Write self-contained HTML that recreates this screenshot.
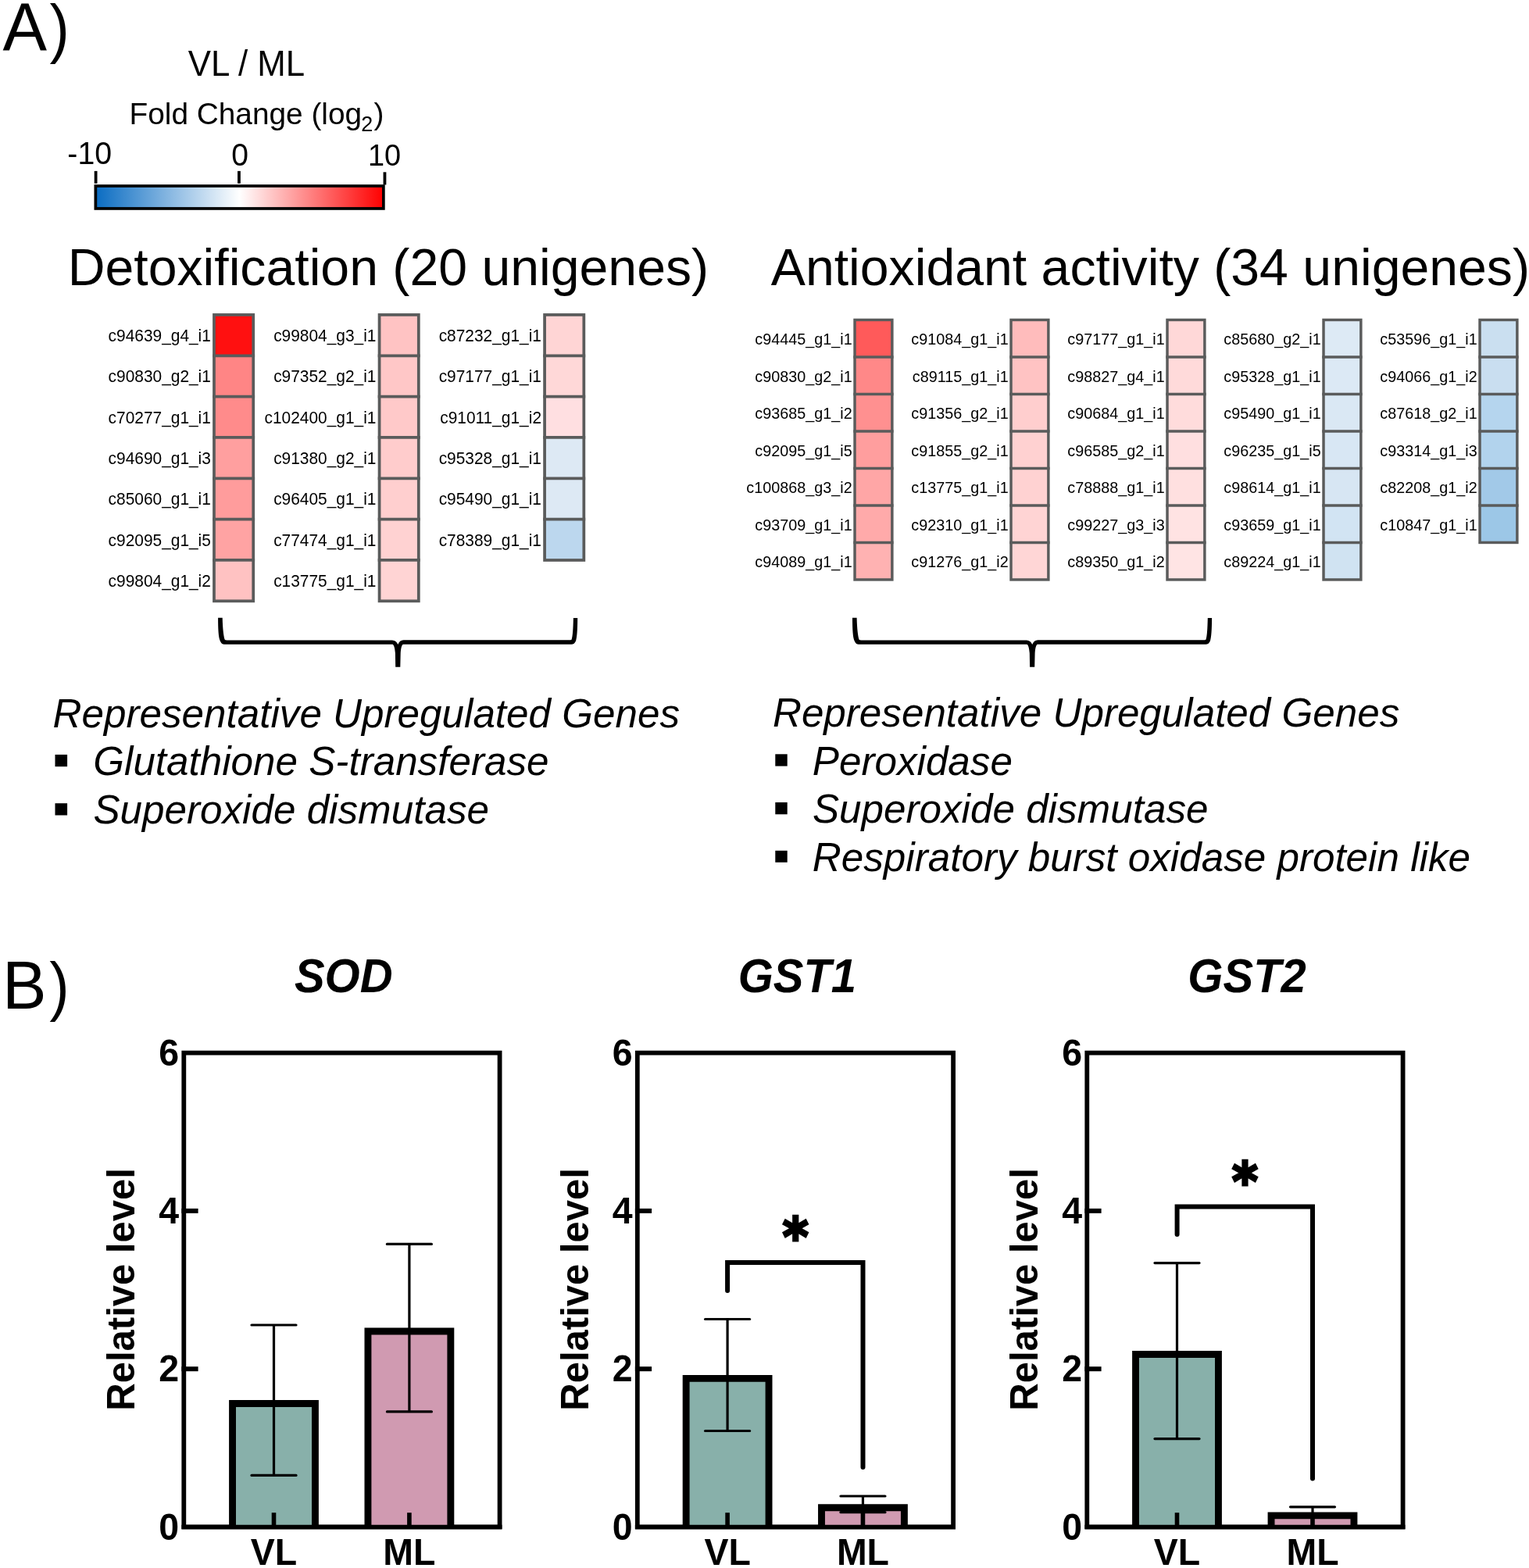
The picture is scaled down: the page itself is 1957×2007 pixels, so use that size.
<!DOCTYPE html>
<html><head><meta charset="utf-8"><title>Figure</title>
<style>
html,body{margin:0;padding:0;background:#fff;}
svg{display:block;}
text{font-family:"Liberation Sans", Arial, Helvetica, sans-serif;fill:#000;}
</style></head>
<body>
<svg width="1957" height="2007" viewBox="0 0 1957 2007">
<rect x="0" y="0" width="1957" height="2007" fill="#fff"/>
<text transform="translate(3.53 64.80) scale(1 1.027)" font-size="84.8">A</text>
<text transform="translate(63.45 65.00) scale(0.9 1.0)" font-size="84.2">)</text>
<text transform="translate(240.80 96.80) scale(1 1.04)" font-size="43.8">VL / ML</text>
<text transform="translate(165.52 159.00)" font-size="38.8">Fold Change (log</text>
<text transform="translate(462.25 167.80) scale(1 1.02)" font-size="27">2</text>
<text transform="translate(478.57 159.00) scale(1 0.985)" font-size="38.8">)</text>
<text transform="translate(86.37 210.00) scale(1 1.025)" font-size="39.3">-10</text>
<text transform="translate(296.18 212.30) scale(1 1.025)" font-size="39.1">0</text>
<text transform="translate(470.92 211.80) scale(1 1.025)" font-size="37.9">10</text>
<defs><linearGradient id="cb" x1="0" x2="1" y1="0" y2="0"><stop offset="0" stop-color="#0a6cc2"/><stop offset="0.5" stop-color="#ffffff"/><stop offset="1" stop-color="#ff0000"/></linearGradient></defs>
<rect x="122.35" y="238.05" width="368.50" height="28.90" fill="url(#cb)" stroke="#000" stroke-width="3.7"/>
<line x1="122.60" y1="218.90" x2="122.60" y2="234.80" stroke="#000" stroke-width="3.8" stroke-linecap="butt"/>
<line x1="305.95" y1="218.90" x2="305.95" y2="234.80" stroke="#000" stroke-width="3.8" stroke-linecap="butt"/>
<line x1="492.45" y1="220.30" x2="492.45" y2="236.50" stroke="#000" stroke-width="3.8" stroke-linecap="butt"/>
<text transform="translate(86.67 365.10) scale(1 1.01)" font-size="66.2">Detoxification (20 unigenes)</text>
<text transform="translate(986.77 364.90) scale(1 1.01)" font-size="66.2">Antioxidant activity (34 unigenes)</text>
<rect x="273.98" y="402.95" width="50.25" height="52.34" fill="#ff1010"/>
<rect x="273.98" y="455.29" width="50.25" height="52.34" fill="#ff8585"/>
<rect x="273.98" y="507.63" width="50.25" height="52.34" fill="#ff8b8b"/>
<rect x="273.98" y="559.97" width="50.25" height="52.34" fill="#ff9f9f"/>
<rect x="273.98" y="612.31" width="50.25" height="52.34" fill="#ff9c9c"/>
<rect x="273.98" y="664.65" width="50.25" height="52.34" fill="#ffa3a3"/>
<rect x="273.98" y="716.99" width="50.25" height="52.34" fill="#ffc2c2"/>
<rect x="273.98" y="402.95" width="50.25" height="366.38" fill="none" stroke="#5a5b5b" stroke-width="3.75"/>
<line x1="272.10" y1="455.29" x2="326.10" y2="455.29" stroke="#5a5b5b" stroke-width="3.75" stroke-linecap="butt"/>
<line x1="272.10" y1="507.63" x2="326.10" y2="507.63" stroke="#5a5b5b" stroke-width="3.75" stroke-linecap="butt"/>
<line x1="272.10" y1="559.97" x2="326.10" y2="559.97" stroke="#5a5b5b" stroke-width="3.75" stroke-linecap="butt"/>
<line x1="272.10" y1="612.31" x2="326.10" y2="612.31" stroke="#5a5b5b" stroke-width="3.75" stroke-linecap="butt"/>
<line x1="272.10" y1="664.65" x2="326.10" y2="664.65" stroke="#5a5b5b" stroke-width="3.75" stroke-linecap="butt"/>
<line x1="272.10" y1="716.99" x2="326.10" y2="716.99" stroke="#5a5b5b" stroke-width="3.75" stroke-linecap="butt"/>
<text transform="translate(269.90 437.12) scale(1 1.02)" font-size="20.9" text-anchor="end">c94639_g4_i1</text>
<text transform="translate(269.90 489.46) scale(1 1.02)" font-size="20.9" text-anchor="end">c90830_g2_i1</text>
<text transform="translate(269.90 541.80) scale(1 1.02)" font-size="20.9" text-anchor="end">c70277_g1_i1</text>
<text transform="translate(269.90 594.14) scale(1 1.02)" font-size="20.9" text-anchor="end">c94690_g1_i3</text>
<text transform="translate(269.90 646.48) scale(1 1.02)" font-size="20.9" text-anchor="end">c85060_g1_i1</text>
<text transform="translate(269.90 698.82) scale(1 1.02)" font-size="20.9" text-anchor="end">c92095_g1_i5</text>
<text transform="translate(269.90 751.16) scale(1 1.02)" font-size="20.9" text-anchor="end">c99804_g1_i2</text>
<rect x="485.57" y="402.95" width="50.25" height="52.34" fill="#ffc3c3"/>
<rect x="485.57" y="455.29" width="50.25" height="52.34" fill="#ffc7c7"/>
<rect x="485.57" y="507.63" width="50.25" height="52.34" fill="#ffc9c9"/>
<rect x="485.57" y="559.97" width="50.25" height="52.34" fill="#ffcccc"/>
<rect x="485.57" y="612.31" width="50.25" height="52.34" fill="#ffcfcf"/>
<rect x="485.57" y="664.65" width="50.25" height="52.34" fill="#ffd2d2"/>
<rect x="485.57" y="716.99" width="50.25" height="52.34" fill="#ffd4d4"/>
<rect x="485.57" y="402.95" width="50.25" height="366.38" fill="none" stroke="#5a5b5b" stroke-width="3.75"/>
<line x1="483.70" y1="455.29" x2="537.70" y2="455.29" stroke="#5a5b5b" stroke-width="3.75" stroke-linecap="butt"/>
<line x1="483.70" y1="507.63" x2="537.70" y2="507.63" stroke="#5a5b5b" stroke-width="3.75" stroke-linecap="butt"/>
<line x1="483.70" y1="559.97" x2="537.70" y2="559.97" stroke="#5a5b5b" stroke-width="3.75" stroke-linecap="butt"/>
<line x1="483.70" y1="612.31" x2="537.70" y2="612.31" stroke="#5a5b5b" stroke-width="3.75" stroke-linecap="butt"/>
<line x1="483.70" y1="664.65" x2="537.70" y2="664.65" stroke="#5a5b5b" stroke-width="3.75" stroke-linecap="butt"/>
<line x1="483.70" y1="716.99" x2="537.70" y2="716.99" stroke="#5a5b5b" stroke-width="3.75" stroke-linecap="butt"/>
<text transform="translate(481.50 437.12) scale(1 1.02)" font-size="20.9" text-anchor="end">c99804_g3_i1</text>
<text transform="translate(481.50 489.46) scale(1 1.02)" font-size="20.9" text-anchor="end">c97352_g2_i1</text>
<text transform="translate(481.50 541.80) scale(1 1.02)" font-size="20.9" text-anchor="end">c102400_g1_i1</text>
<text transform="translate(481.50 594.14) scale(1 1.02)" font-size="20.9" text-anchor="end">c91380_g2_i1</text>
<text transform="translate(481.50 646.48) scale(1 1.02)" font-size="20.9" text-anchor="end">c96405_g1_i1</text>
<text transform="translate(481.50 698.82) scale(1 1.02)" font-size="20.9" text-anchor="end">c77474_g1_i1</text>
<text transform="translate(481.50 751.16) scale(1 1.02)" font-size="20.9" text-anchor="end">c13775_g1_i1</text>
<rect x="697.08" y="402.95" width="50.25" height="52.34" fill="#ffd5d5"/>
<rect x="697.08" y="455.29" width="50.25" height="52.34" fill="#ffd8d8"/>
<rect x="697.08" y="507.63" width="50.25" height="52.34" fill="#ffdfe1"/>
<rect x="697.08" y="559.97" width="50.25" height="52.34" fill="#dde9f4"/>
<rect x="697.08" y="612.31" width="50.25" height="52.34" fill="#dde9f4"/>
<rect x="697.08" y="664.65" width="50.25" height="52.34" fill="#bcd7ee"/>
<rect x="697.08" y="402.95" width="50.25" height="314.04" fill="none" stroke="#5a5b5b" stroke-width="3.75"/>
<line x1="695.20" y1="455.29" x2="749.20" y2="455.29" stroke="#5a5b5b" stroke-width="3.75" stroke-linecap="butt"/>
<line x1="695.20" y1="507.63" x2="749.20" y2="507.63" stroke="#5a5b5b" stroke-width="3.75" stroke-linecap="butt"/>
<line x1="695.20" y1="559.97" x2="749.20" y2="559.97" stroke="#5a5b5b" stroke-width="3.75" stroke-linecap="butt"/>
<line x1="695.20" y1="612.31" x2="749.20" y2="612.31" stroke="#5a5b5b" stroke-width="3.75" stroke-linecap="butt"/>
<line x1="695.20" y1="664.65" x2="749.20" y2="664.65" stroke="#5a5b5b" stroke-width="3.75" stroke-linecap="butt"/>
<text transform="translate(693.00 437.12) scale(1 1.02)" font-size="20.9" text-anchor="end">c87232_g1_i1</text>
<text transform="translate(693.00 489.46) scale(1 1.02)" font-size="20.9" text-anchor="end">c97177_g1_i1</text>
<text transform="translate(693.00 541.80) scale(1 1.02)" font-size="20.9" text-anchor="end">c91011_g1_i2</text>
<text transform="translate(693.00 594.14) scale(1 1.02)" font-size="20.9" text-anchor="end">c95328_g1_i1</text>
<text transform="translate(693.00 646.48) scale(1 1.02)" font-size="20.9" text-anchor="end">c95490_g1_i1</text>
<text transform="translate(693.00 698.82) scale(1 1.02)" font-size="20.9" text-anchor="end">c78389_g1_i1</text>
<rect x="1094.02" y="409.45" width="47.85" height="47.50" fill="#ff5a5a"/>
<rect x="1094.02" y="456.95" width="47.85" height="47.50" fill="#ff8888"/>
<rect x="1094.02" y="504.45" width="47.85" height="47.50" fill="#ff9090"/>
<rect x="1094.02" y="551.95" width="47.85" height="47.50" fill="#ff9e9e"/>
<rect x="1094.02" y="599.45" width="47.85" height="47.50" fill="#ffa6a6"/>
<rect x="1094.02" y="646.95" width="47.85" height="47.50" fill="#ffaaaa"/>
<rect x="1094.02" y="694.45" width="47.85" height="47.50" fill="#ffb2b2"/>
<rect x="1094.02" y="409.45" width="47.85" height="332.50" fill="none" stroke="#5a5b5b" stroke-width="3.45"/>
<line x1="1092.30" y1="456.95" x2="1143.60" y2="456.95" stroke="#5a5b5b" stroke-width="3.45" stroke-linecap="butt"/>
<line x1="1092.30" y1="504.45" x2="1143.60" y2="504.45" stroke="#5a5b5b" stroke-width="3.45" stroke-linecap="butt"/>
<line x1="1092.30" y1="551.95" x2="1143.60" y2="551.95" stroke="#5a5b5b" stroke-width="3.45" stroke-linecap="butt"/>
<line x1="1092.30" y1="599.45" x2="1143.60" y2="599.45" stroke="#5a5b5b" stroke-width="3.45" stroke-linecap="butt"/>
<line x1="1092.30" y1="646.95" x2="1143.60" y2="646.95" stroke="#5a5b5b" stroke-width="3.45" stroke-linecap="butt"/>
<line x1="1092.30" y1="694.45" x2="1143.60" y2="694.45" stroke="#5a5b5b" stroke-width="3.45" stroke-linecap="butt"/>
<text transform="translate(1090.70 441.00) scale(1 1.02)" font-size="19.8" text-anchor="end">c94445_g1_i1</text>
<text transform="translate(1090.70 488.50) scale(1 1.02)" font-size="19.8" text-anchor="end">c90830_g2_i1</text>
<text transform="translate(1090.70 536.00) scale(1 1.02)" font-size="19.8" text-anchor="end">c93685_g1_i2</text>
<text transform="translate(1090.70 583.50) scale(1 1.02)" font-size="19.8" text-anchor="end">c92095_g1_i5</text>
<text transform="translate(1090.70 631.00) scale(1 1.02)" font-size="19.8" text-anchor="end">c100868_g3_i2</text>
<text transform="translate(1090.70 678.50) scale(1 1.02)" font-size="19.8" text-anchor="end">c93709_g1_i1</text>
<text transform="translate(1090.70 726.00) scale(1 1.02)" font-size="19.8" text-anchor="end">c94089_g1_i1</text>
<rect x="1294.02" y="409.45" width="47.85" height="47.50" fill="#ffbcbc"/>
<rect x="1294.02" y="456.95" width="47.85" height="47.50" fill="#ffc3c3"/>
<rect x="1294.02" y="504.45" width="47.85" height="47.50" fill="#ffcece"/>
<rect x="1294.02" y="551.95" width="47.85" height="47.50" fill="#ffd1d1"/>
<rect x="1294.02" y="599.45" width="47.85" height="47.50" fill="#ffd2d2"/>
<rect x="1294.02" y="646.95" width="47.85" height="47.50" fill="#ffd4d4"/>
<rect x="1294.02" y="694.45" width="47.85" height="47.50" fill="#ffd6d6"/>
<rect x="1294.02" y="409.45" width="47.85" height="332.50" fill="none" stroke="#5a5b5b" stroke-width="3.45"/>
<line x1="1292.30" y1="456.95" x2="1343.60" y2="456.95" stroke="#5a5b5b" stroke-width="3.45" stroke-linecap="butt"/>
<line x1="1292.30" y1="504.45" x2="1343.60" y2="504.45" stroke="#5a5b5b" stroke-width="3.45" stroke-linecap="butt"/>
<line x1="1292.30" y1="551.95" x2="1343.60" y2="551.95" stroke="#5a5b5b" stroke-width="3.45" stroke-linecap="butt"/>
<line x1="1292.30" y1="599.45" x2="1343.60" y2="599.45" stroke="#5a5b5b" stroke-width="3.45" stroke-linecap="butt"/>
<line x1="1292.30" y1="646.95" x2="1343.60" y2="646.95" stroke="#5a5b5b" stroke-width="3.45" stroke-linecap="butt"/>
<line x1="1292.30" y1="694.45" x2="1343.60" y2="694.45" stroke="#5a5b5b" stroke-width="3.45" stroke-linecap="butt"/>
<text transform="translate(1290.70 441.00) scale(1 1.02)" font-size="19.8" text-anchor="end">c91084_g1_i1</text>
<text transform="translate(1290.70 488.50) scale(1 1.02)" font-size="19.8" text-anchor="end">c89115_g1_i1</text>
<text transform="translate(1290.70 536.00) scale(1 1.02)" font-size="19.8" text-anchor="end">c91356_g2_i1</text>
<text transform="translate(1290.70 583.50) scale(1 1.02)" font-size="19.8" text-anchor="end">c91855_g2_i1</text>
<text transform="translate(1290.70 631.00) scale(1 1.02)" font-size="19.8" text-anchor="end">c13775_g1_i1</text>
<text transform="translate(1290.70 678.50) scale(1 1.02)" font-size="19.8" text-anchor="end">c92310_g1_i1</text>
<text transform="translate(1290.70 726.00) scale(1 1.02)" font-size="19.8" text-anchor="end">c91276_g1_i2</text>
<rect x="1494.02" y="409.45" width="47.85" height="47.50" fill="#ffd8d8"/>
<rect x="1494.02" y="456.95" width="47.85" height="47.50" fill="#ffdada"/>
<rect x="1494.02" y="504.45" width="47.85" height="47.50" fill="#ffdcdc"/>
<rect x="1494.02" y="551.95" width="47.85" height="47.50" fill="#ffdfe0"/>
<rect x="1494.02" y="599.45" width="47.85" height="47.50" fill="#ffe0e0"/>
<rect x="1494.02" y="646.95" width="47.85" height="47.50" fill="#ffe3e3"/>
<rect x="1494.02" y="694.45" width="47.85" height="47.50" fill="#ffe4e4"/>
<rect x="1494.02" y="409.45" width="47.85" height="332.50" fill="none" stroke="#5a5b5b" stroke-width="3.45"/>
<line x1="1492.30" y1="456.95" x2="1543.60" y2="456.95" stroke="#5a5b5b" stroke-width="3.45" stroke-linecap="butt"/>
<line x1="1492.30" y1="504.45" x2="1543.60" y2="504.45" stroke="#5a5b5b" stroke-width="3.45" stroke-linecap="butt"/>
<line x1="1492.30" y1="551.95" x2="1543.60" y2="551.95" stroke="#5a5b5b" stroke-width="3.45" stroke-linecap="butt"/>
<line x1="1492.30" y1="599.45" x2="1543.60" y2="599.45" stroke="#5a5b5b" stroke-width="3.45" stroke-linecap="butt"/>
<line x1="1492.30" y1="646.95" x2="1543.60" y2="646.95" stroke="#5a5b5b" stroke-width="3.45" stroke-linecap="butt"/>
<line x1="1492.30" y1="694.45" x2="1543.60" y2="694.45" stroke="#5a5b5b" stroke-width="3.45" stroke-linecap="butt"/>
<text transform="translate(1490.70 441.00) scale(1 1.02)" font-size="19.8" text-anchor="end">c97177_g1_i1</text>
<text transform="translate(1490.70 488.50) scale(1 1.02)" font-size="19.8" text-anchor="end">c98827_g4_i1</text>
<text transform="translate(1490.70 536.00) scale(1 1.02)" font-size="19.8" text-anchor="end">c90684_g1_i1</text>
<text transform="translate(1490.70 583.50) scale(1 1.02)" font-size="19.8" text-anchor="end">c96585_g2_i1</text>
<text transform="translate(1490.70 631.00) scale(1 1.02)" font-size="19.8" text-anchor="end">c78888_g1_i1</text>
<text transform="translate(1490.70 678.50) scale(1 1.02)" font-size="19.8" text-anchor="end">c99227_g3_i3</text>
<text transform="translate(1490.70 726.00) scale(1 1.02)" font-size="19.8" text-anchor="end">c89350_g1_i2</text>
<rect x="1694.02" y="409.45" width="47.85" height="47.50" fill="#ddeaf5"/>
<rect x="1694.02" y="456.95" width="47.85" height="47.50" fill="#dce9f5"/>
<rect x="1694.02" y="504.45" width="47.85" height="47.50" fill="#dae8f4"/>
<rect x="1694.02" y="551.95" width="47.85" height="47.50" fill="#d8e7f4"/>
<rect x="1694.02" y="599.45" width="47.85" height="47.50" fill="#d7e6f3"/>
<rect x="1694.02" y="646.95" width="47.85" height="47.50" fill="#d2e4f3"/>
<rect x="1694.02" y="694.45" width="47.85" height="47.50" fill="#d0e3f2"/>
<rect x="1694.02" y="409.45" width="47.85" height="332.50" fill="none" stroke="#5a5b5b" stroke-width="3.45"/>
<line x1="1692.30" y1="456.95" x2="1743.60" y2="456.95" stroke="#5a5b5b" stroke-width="3.45" stroke-linecap="butt"/>
<line x1="1692.30" y1="504.45" x2="1743.60" y2="504.45" stroke="#5a5b5b" stroke-width="3.45" stroke-linecap="butt"/>
<line x1="1692.30" y1="551.95" x2="1743.60" y2="551.95" stroke="#5a5b5b" stroke-width="3.45" stroke-linecap="butt"/>
<line x1="1692.30" y1="599.45" x2="1743.60" y2="599.45" stroke="#5a5b5b" stroke-width="3.45" stroke-linecap="butt"/>
<line x1="1692.30" y1="646.95" x2="1743.60" y2="646.95" stroke="#5a5b5b" stroke-width="3.45" stroke-linecap="butt"/>
<line x1="1692.30" y1="694.45" x2="1743.60" y2="694.45" stroke="#5a5b5b" stroke-width="3.45" stroke-linecap="butt"/>
<text transform="translate(1690.70 441.00) scale(1 1.02)" font-size="19.8" text-anchor="end">c85680_g2_i1</text>
<text transform="translate(1690.70 488.50) scale(1 1.02)" font-size="19.8" text-anchor="end">c95328_g1_i1</text>
<text transform="translate(1690.70 536.00) scale(1 1.02)" font-size="19.8" text-anchor="end">c95490_g1_i1</text>
<text transform="translate(1690.70 583.50) scale(1 1.02)" font-size="19.8" text-anchor="end">c96235_g1_i5</text>
<text transform="translate(1690.70 631.00) scale(1 1.02)" font-size="19.8" text-anchor="end">c98614_g1_i1</text>
<text transform="translate(1690.70 678.50) scale(1 1.02)" font-size="19.8" text-anchor="end">c93659_g1_i1</text>
<text transform="translate(1690.70 726.00) scale(1 1.02)" font-size="19.8" text-anchor="end">c89224_g1_i1</text>
<rect x="1894.02" y="409.45" width="47.85" height="47.50" fill="#cadff0"/>
<rect x="1894.02" y="456.95" width="47.85" height="47.50" fill="#c9def0"/>
<rect x="1894.02" y="504.45" width="47.85" height="47.50" fill="#b5d5ee"/>
<rect x="1894.02" y="551.95" width="47.85" height="47.50" fill="#b2d3ed"/>
<rect x="1894.02" y="599.45" width="47.85" height="47.50" fill="#a2c9e8"/>
<rect x="1894.02" y="646.95" width="47.85" height="47.50" fill="#9cc7e7"/>
<rect x="1894.02" y="409.45" width="47.85" height="285.00" fill="none" stroke="#5a5b5b" stroke-width="3.45"/>
<line x1="1892.30" y1="456.95" x2="1943.60" y2="456.95" stroke="#5a5b5b" stroke-width="3.45" stroke-linecap="butt"/>
<line x1="1892.30" y1="504.45" x2="1943.60" y2="504.45" stroke="#5a5b5b" stroke-width="3.45" stroke-linecap="butt"/>
<line x1="1892.30" y1="551.95" x2="1943.60" y2="551.95" stroke="#5a5b5b" stroke-width="3.45" stroke-linecap="butt"/>
<line x1="1892.30" y1="599.45" x2="1943.60" y2="599.45" stroke="#5a5b5b" stroke-width="3.45" stroke-linecap="butt"/>
<line x1="1892.30" y1="646.95" x2="1943.60" y2="646.95" stroke="#5a5b5b" stroke-width="3.45" stroke-linecap="butt"/>
<text transform="translate(1890.70 441.00) scale(1 1.02)" font-size="19.8" text-anchor="end">c53596_g1_i1</text>
<text transform="translate(1890.70 488.50) scale(1 1.02)" font-size="19.8" text-anchor="end">c94066_g1_i2</text>
<text transform="translate(1890.70 536.00) scale(1 1.02)" font-size="19.8" text-anchor="end">c87618_g2_i1</text>
<text transform="translate(1890.70 583.50) scale(1 1.02)" font-size="19.8" text-anchor="end">c93314_g1_i3</text>
<text transform="translate(1890.70 631.00) scale(1 1.02)" font-size="19.8" text-anchor="end">c82208_g1_i2</text>
<text transform="translate(1890.70 678.50) scale(1 1.02)" font-size="19.8" text-anchor="end">c10847_g1_i1</text>
<path d="M279.10,790.7 L284.70,790.7 C285.00,805 286.30,814.5 287.60,818.5 C288.20,819.3 289.00,819.4 290.00,819.4 L502.00,819.4 C505.50,819.4 508.00,821.5 509.30,825.1 C510.60,821.5 513.00,819.2 516.50,819.2 L729.00,819.2 C730.20,819.2 731.00,819.3 731.60,818.5 C733.00,814.5 733.60,805 733.90,790.9 L739.20,790.9 C739.20,805 738.50,816 737.00,820.5 C735.50,823.8 733.50,824.8 731.50,824.8 L515.80,824.8 C514.20,825.8 513.20,829.5 512.70,836 L512.30,853.8 L506.20,853.8 L505.90,836 C505.30,829.5 504.30,825.8 502.60,824.8 L287.00,824.8 C285.00,824.8 283.20,823.8 281.80,820.5 C279.60,816 279.10,805 279.10,790.7 Z" fill="#000"/>
<path d="M1091.00,790.7 L1096.60,790.7 C1096.90,805 1098.20,814.5 1099.50,818.5 C1100.10,819.3 1100.90,819.4 1101.90,819.4 L1313.90,819.4 C1317.40,819.4 1319.90,821.5 1321.20,825.1 C1322.50,821.5 1324.90,819.2 1328.40,819.2 L1540.90,819.2 C1542.10,819.2 1542.90,819.3 1543.50,818.5 C1544.90,814.5 1545.50,805 1545.80,790.9 L1551.10,790.9 C1551.10,805 1550.40,816 1548.90,820.5 C1547.40,823.8 1545.40,824.8 1543.40,824.8 L1327.70,824.8 C1326.10,825.8 1325.10,829.5 1324.60,836 L1324.20,853.8 L1318.10,853.8 L1317.80,836 C1317.20,829.5 1316.20,825.8 1314.50,824.8 L1098.90,824.8 C1096.90,824.8 1095.10,823.8 1093.70,820.5 C1091.50,816 1091.00,805 1091.00,790.7 Z" fill="#000"/>
<text transform="translate(67.61 931.20)" font-size="51.2" font-style="italic">Representative Upregulated Genes</text>
<rect x="70.50" y="965.90" width="15.60" height="15.30" fill="#000"/>
<text transform="translate(119.19 992.40)" font-size="51.2" font-style="italic">Glutathione S-transferase</text>
<rect x="70.50" y="1028.20" width="15.60" height="15.30" fill="#000"/>
<text transform="translate(119.47 1053.80)" font-size="51.2" font-style="italic">Superoxide dismutase</text>
<text transform="translate(988.91 929.90)" font-size="51.2" font-style="italic">Representative Upregulated Genes</text>
<rect x="992.30" y="965.30" width="15.40" height="15.30" fill="#000"/>
<text transform="translate(1039.81 991.60)" font-size="51.2" font-style="italic">Peroxidase</text>
<rect x="992.30" y="1027.00" width="15.40" height="15.30" fill="#000"/>
<text transform="translate(1039.97 1053.30)" font-size="51.2" font-style="italic">Superoxide dismutase</text>
<rect x="992.30" y="1088.80" width="15.40" height="15.00" fill="#000"/>
<text transform="translate(1039.81 1114.50)" font-size="51.2" font-style="italic">Respiratory burst oxidase protein like</text>
<text transform="translate(3.05 1290.60) scale(1 1.021)" font-size="84.8">B</text>
<text transform="translate(63.30 1290.90) scale(0.907 1.0)" font-size="84.0">)</text>
<text transform="translate(376.90 1270.00) scale(1 1.05)" font-size="58" font-weight="bold" font-style="italic">SOD</text>
<rect x="235.30" y="1347.65" width="404.30" height="606.85" fill="none" stroke="#000" stroke-width="5.8"/>
<line x1="232.40" y1="1752.20" x2="253.60" y2="1752.20" stroke="#000" stroke-width="6.0" stroke-linecap="butt"/>
<line x1="232.40" y1="1549.90" x2="253.60" y2="1549.90" stroke="#000" stroke-width="6.0" stroke-linecap="butt"/>
<text transform="translate(229.00 1970.50) scale(1 1.04)" font-size="46.5" font-weight="bold" text-anchor="end">0</text>
<text transform="translate(229.00 1768.20) scale(1 1.04)" font-size="46.5" font-weight="bold" text-anchor="end">2</text>
<text transform="translate(229.00 1565.90) scale(1 1.04)" font-size="46.5" font-weight="bold" text-anchor="end">4</text>
<text transform="translate(229.00 1363.60) scale(1 1.04)" font-size="46.5" font-weight="bold" text-anchor="end">6</text>
<text transform="translate(172.40 1805.68) rotate(-90) scale(1 1.03)" font-size="49" font-weight="bold">Relative level</text>
<rect x="297.55" y="1796.55" width="105.90" height="157.95" fill="#88b0aa"/>
<path d="M297.55,1954.50 L297.55,1796.55 L403.45,1796.55 L403.45,1954.50" fill="none" stroke="#000" stroke-width="8.9" stroke-linejoin="miter"/>
<line x1="350.50" y1="1936.20" x2="350.50" y2="1954.50" stroke="#000" stroke-width="5.6" stroke-linecap="butt"/>
<line x1="350.50" y1="1696.00" x2="350.50" y2="1888.40" stroke="#000" stroke-width="3.2" stroke-linecap="butt"/>
<line x1="322.00" y1="1696.00" x2="379.00" y2="1696.00" stroke="#000" stroke-width="3.2" stroke-linecap="round"/>
<line x1="322.00" y1="1888.40" x2="379.00" y2="1888.40" stroke="#000" stroke-width="3.2" stroke-linecap="round"/>
<rect x="470.95" y="1704.05" width="105.90" height="250.45" fill="#d09ab1"/>
<path d="M470.95,1954.50 L470.95,1704.05 L576.85,1704.05 L576.85,1954.50" fill="none" stroke="#000" stroke-width="8.9" stroke-linejoin="miter"/>
<line x1="523.90" y1="1936.20" x2="523.90" y2="1954.50" stroke="#000" stroke-width="5.6" stroke-linecap="butt"/>
<line x1="523.90" y1="1592.40" x2="523.90" y2="1806.90" stroke="#000" stroke-width="3.2" stroke-linecap="butt"/>
<line x1="495.40" y1="1592.40" x2="552.40" y2="1592.40" stroke="#000" stroke-width="3.2" stroke-linecap="round"/>
<line x1="495.40" y1="1806.90" x2="552.40" y2="1806.90" stroke="#000" stroke-width="3.2" stroke-linecap="round"/>
<line x1="232.40" y1="1954.50" x2="642.50" y2="1954.50" stroke="#000" stroke-width="5.6" stroke-linecap="butt"/>
<text transform="translate(350.50 2002.90) scale(1 1.04)" font-size="46.5" font-weight="bold" text-anchor="middle">VL</text>
<text transform="translate(523.90 2002.90) scale(1 1.04)" font-size="46.5" font-weight="bold" text-anchor="middle">ML</text>
<text transform="translate(944.66 1270.00) scale(1 1.05)" font-size="58" font-weight="bold" font-style="italic">GST1</text>
<rect x="815.80" y="1347.65" width="404.30" height="606.85" fill="none" stroke="#000" stroke-width="5.8"/>
<line x1="812.90" y1="1752.20" x2="834.10" y2="1752.20" stroke="#000" stroke-width="6.0" stroke-linecap="butt"/>
<line x1="812.90" y1="1549.90" x2="834.10" y2="1549.90" stroke="#000" stroke-width="6.0" stroke-linecap="butt"/>
<text transform="translate(809.50 1970.50) scale(1 1.04)" font-size="46.5" font-weight="bold" text-anchor="end">0</text>
<text transform="translate(809.50 1768.20) scale(1 1.04)" font-size="46.5" font-weight="bold" text-anchor="end">2</text>
<text transform="translate(809.50 1565.90) scale(1 1.04)" font-size="46.5" font-weight="bold" text-anchor="end">4</text>
<text transform="translate(809.50 1363.60) scale(1 1.04)" font-size="46.5" font-weight="bold" text-anchor="end">6</text>
<text transform="translate(752.90 1805.68) rotate(-90) scale(1 1.03)" font-size="49" font-weight="bold">Relative level</text>
<rect x="878.15" y="1764.35" width="105.90" height="190.15" fill="#88b0aa"/>
<path d="M878.15,1954.50 L878.15,1764.35 L984.05,1764.35 L984.05,1954.50" fill="none" stroke="#000" stroke-width="8.9" stroke-linejoin="miter"/>
<line x1="931.10" y1="1936.20" x2="931.10" y2="1954.50" stroke="#000" stroke-width="5.6" stroke-linecap="butt"/>
<line x1="931.10" y1="1688.50" x2="931.10" y2="1831.50" stroke="#000" stroke-width="3.2" stroke-linecap="butt"/>
<line x1="902.60" y1="1688.50" x2="959.60" y2="1688.50" stroke="#000" stroke-width="3.2" stroke-linecap="round"/>
<line x1="902.60" y1="1831.50" x2="959.60" y2="1831.50" stroke="#000" stroke-width="3.2" stroke-linecap="round"/>
<rect x="1051.50" y="1929.75" width="105.90" height="24.75" fill="#d09ab1"/>
<path d="M1051.50,1954.50 L1051.50,1929.75 L1157.40,1929.75 L1157.40,1954.50" fill="none" stroke="#000" stroke-width="8.9" stroke-linejoin="miter"/>
<line x1="1104.45" y1="1936.20" x2="1104.45" y2="1954.50" stroke="#000" stroke-width="5.6" stroke-linecap="butt"/>
<line x1="1104.45" y1="1915.00" x2="1104.45" y2="1935.70" stroke="#000" stroke-width="3.2" stroke-linecap="butt"/>
<line x1="1075.95" y1="1915.00" x2="1132.95" y2="1915.00" stroke="#000" stroke-width="3.2" stroke-linecap="round"/>
<line x1="1075.95" y1="1935.70" x2="1132.95" y2="1935.70" stroke="#000" stroke-width="3.2" stroke-linecap="round"/>
<line x1="812.90" y1="1954.50" x2="1223.00" y2="1954.50" stroke="#000" stroke-width="5.6" stroke-linecap="butt"/>
<text transform="translate(931.10 2002.90) scale(1 1.04)" font-size="46.5" font-weight="bold" text-anchor="middle">VL</text>
<text transform="translate(1104.45 2002.90) scale(1 1.04)" font-size="46.5" font-weight="bold" text-anchor="middle">ML</text>
<path d="M931.10,1652.00 L931.10,1616.00 L1104.50,1616.00 L1104.50,1878.00" fill="none" stroke="#000" stroke-width="6.0" stroke-linecap="round" stroke-linejoin="miter"/>
<text transform="translate(1018.10 1572.30) scale(1 1.08)" x="0" y="32.13" font-family="DejaVu Sans" font-weight="bold" font-size="63.0" text-anchor="middle" stroke="#000" stroke-width="3" stroke-linejoin="miter" style="font-family:'DejaVu Sans',sans-serif">*</text>
<text transform="translate(1520.36 1270.00) scale(1 1.05)" font-size="58" font-weight="bold" font-style="italic">GST2</text>
<rect x="1391.30" y="1347.65" width="404.30" height="606.85" fill="none" stroke="#000" stroke-width="5.8"/>
<line x1="1388.40" y1="1752.20" x2="1409.60" y2="1752.20" stroke="#000" stroke-width="6.0" stroke-linecap="butt"/>
<line x1="1388.40" y1="1549.90" x2="1409.60" y2="1549.90" stroke="#000" stroke-width="6.0" stroke-linecap="butt"/>
<text transform="translate(1385.00 1970.50) scale(1 1.04)" font-size="46.5" font-weight="bold" text-anchor="end">0</text>
<text transform="translate(1385.00 1768.20) scale(1 1.04)" font-size="46.5" font-weight="bold" text-anchor="end">2</text>
<text transform="translate(1385.00 1565.90) scale(1 1.04)" font-size="46.5" font-weight="bold" text-anchor="end">4</text>
<text transform="translate(1385.00 1363.60) scale(1 1.04)" font-size="46.5" font-weight="bold" text-anchor="end">6</text>
<text transform="translate(1328.40 1805.68) rotate(-90) scale(1 1.03)" font-size="49" font-weight="bold">Relative level</text>
<rect x="1453.55" y="1733.45" width="105.90" height="221.05" fill="#88b0aa"/>
<path d="M1453.55,1954.50 L1453.55,1733.45 L1559.45,1733.45 L1559.45,1954.50" fill="none" stroke="#000" stroke-width="8.9" stroke-linejoin="miter"/>
<line x1="1506.50" y1="1936.20" x2="1506.50" y2="1954.50" stroke="#000" stroke-width="5.6" stroke-linecap="butt"/>
<line x1="1506.50" y1="1616.60" x2="1506.50" y2="1841.60" stroke="#000" stroke-width="3.2" stroke-linecap="butt"/>
<line x1="1478.00" y1="1616.60" x2="1535.00" y2="1616.60" stroke="#000" stroke-width="3.2" stroke-linecap="round"/>
<line x1="1478.00" y1="1841.60" x2="1535.00" y2="1841.60" stroke="#000" stroke-width="3.2" stroke-linecap="round"/>
<rect x="1627.05" y="1939.85" width="105.90" height="14.65" fill="#d09ab1"/>
<path d="M1627.05,1954.50 L1627.05,1939.85 L1732.95,1939.85 L1732.95,1954.50" fill="none" stroke="#000" stroke-width="8.9" stroke-linejoin="miter"/>
<line x1="1680.00" y1="1936.20" x2="1680.00" y2="1954.50" stroke="#000" stroke-width="5.6" stroke-linecap="butt"/>
<line x1="1680.00" y1="1928.80" x2="1680.00" y2="1939.00" stroke="#000" stroke-width="3.2" stroke-linecap="butt"/>
<line x1="1651.50" y1="1928.80" x2="1708.50" y2="1928.80" stroke="#000" stroke-width="3.2" stroke-linecap="round"/>
<line x1="1651.50" y1="1939.00" x2="1708.50" y2="1939.00" stroke="#000" stroke-width="3.2" stroke-linecap="round"/>
<line x1="1388.40" y1="1954.50" x2="1798.50" y2="1954.50" stroke="#000" stroke-width="5.6" stroke-linecap="butt"/>
<text transform="translate(1506.50 2002.90) scale(1 1.04)" font-size="46.5" font-weight="bold" text-anchor="middle">VL</text>
<text transform="translate(1680.00 2002.90) scale(1 1.04)" font-size="46.5" font-weight="bold" text-anchor="middle">ML</text>
<path d="M1506.60,1580.00 L1506.60,1544.60 L1680.00,1544.60 L1680.00,1892.50" fill="none" stroke="#000" stroke-width="6.0" stroke-linecap="round" stroke-linejoin="miter"/>
<text transform="translate(1593.35 1501.45) scale(1 1.08)" x="0" y="32.13" font-family="DejaVu Sans" font-weight="bold" font-size="63.0" text-anchor="middle" stroke="#000" stroke-width="3" stroke-linejoin="miter" style="font-family:'DejaVu Sans',sans-serif">*</text>
</svg>
</body></html>
